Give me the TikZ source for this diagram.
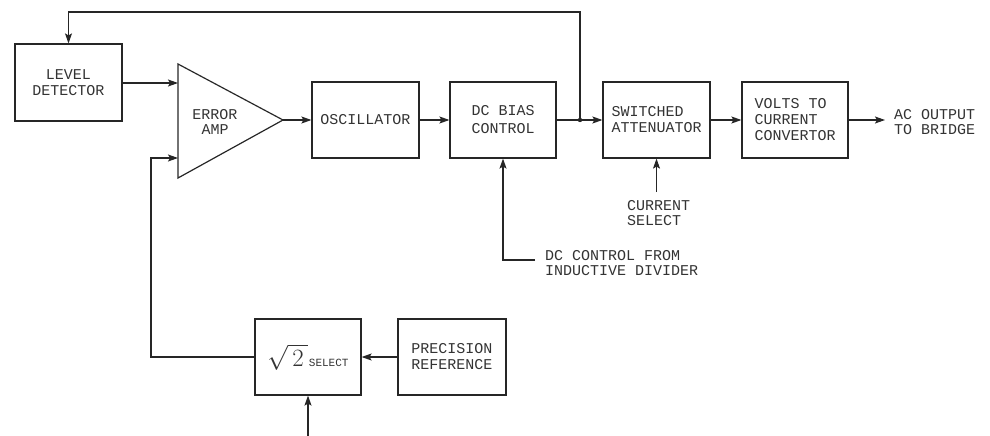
\documentclass[tikz,border=0pt]{standalone}
\usepackage{fontspec}
\newfontfamily\plotfont{Liberation Mono}
\usetikzlibrary{arrows.meta,calc}
\begin{document}
\begin{tikzpicture}[x=1pt,y=-1pt,
  ink/.style={black!85},
  wire/.style={ink,line width=1.1pt},
  arr/.style={wire,-{Stealth[length=10pt,width=7pt,inset=2pt]}},
  blk/.style={draw=black!85,line width=1.2pt,minimum height=76pt,inner sep=0pt,
    font=\plotfont\fontsize{15}{16}\selectfont,text=black!80,align=center},
  lbl/.style={inner sep=0pt,font=\plotfont\fontsize{15}{15}\selectfont,text=black!80,align=left}]
\useasboundingbox (0,0) rectangle (990,436);
% blocks
\node[blk,minimum width=107pt,minimum height=77pt] (lvl) at (68.5,82.5) {LEVEL\\DETECTOR};
\node[blk,minimum width=107pt] (osc) at (365.5,120) {OSCILLATOR};
\node[blk,minimum width=106pt] (dcb) at (503,120) {DC BIAS\\[2pt]CONTROL};
\node[blk,minimum width=107pt,align=left] (sw) at (656.5,120) {SWITCHED\\ATTENUATOR};
\node[blk,minimum width=106pt,align=left] (vtc) at (795,120) {VOLTS TO\\CURRENT\\CONVERTOR};
\node[blk,minimum width=106pt] (sq) at (308,357) {{\fontsize{23}{23}\selectfont$\sqrt{\,2\,}$}\hspace{1pt}{\fontsize{11}{11}\selectfont SELECT}};
\node[blk,minimum width=108pt] (prec) at (452,357) {PRECISION\\REFERENCE};
% error amplifier
\draw[wire,line width=1.2pt] (178,64) coordinate (ampt) -- (283,120) coordinate (ampout) -- (178,178) coordinate (ampb) -- cycle;
\node[lbl,align=center] (amp) at (215,122) {ERROR\\AMP};
\coordinate (ampin1) at (178,83);
\coordinate (ampin2) at (178,158);
\coordinate (lowx) at (151,0);
% labels
\node[lbl,anchor=west] (out) at (894,122) {AC OUTPUT\\TO BRIDGE};
\node[lbl,anchor=north west] (cursel) at (627,200) {CURRENT\\SELECT};
\node[lbl,anchor=west] (dctxt) at (545,263) {DC CONTROL FROM\\INDUCTIVE DIVIDER};
% helper points
\coordinate (junc) at (580,120);
\coordinate (fbtop) at (580,12);
\coordinate (cstop) at (656.5,192);
\coordinate (dcsrc) at (535,260);
\coordinate (sqsrc) at (308,436);
% connectors
\draw[arr] (lvl.east |- ampin1) -- (ampin1);
\draw[arr] (ampout) -- (osc.west);
\draw[arr] (osc.east) -- (dcb.west);
\draw[arr] (dcb.east) -- (sw.west);
\fill[black!85] (junc) circle (2.2pt);
\draw[arr] (junc) -- (fbtop) -| (lvl.north);
\draw[arr] (sw.east) -- (vtc.west);
\draw[arr] (vtc.east) -- ($(out.west)+(-9,-2)$);
\draw[arr] (cstop) -- (sw.south);
\draw[arr] (dcsrc) -| (dcb.south);
\draw[arr] (prec.west) -- (sq.east);
\draw[arr] (sq.west) -| (lowx |- ampin2) -- (ampin2);
\draw[arr] (sqsrc) -- (sq.south);
\end{tikzpicture}
\end{document}
